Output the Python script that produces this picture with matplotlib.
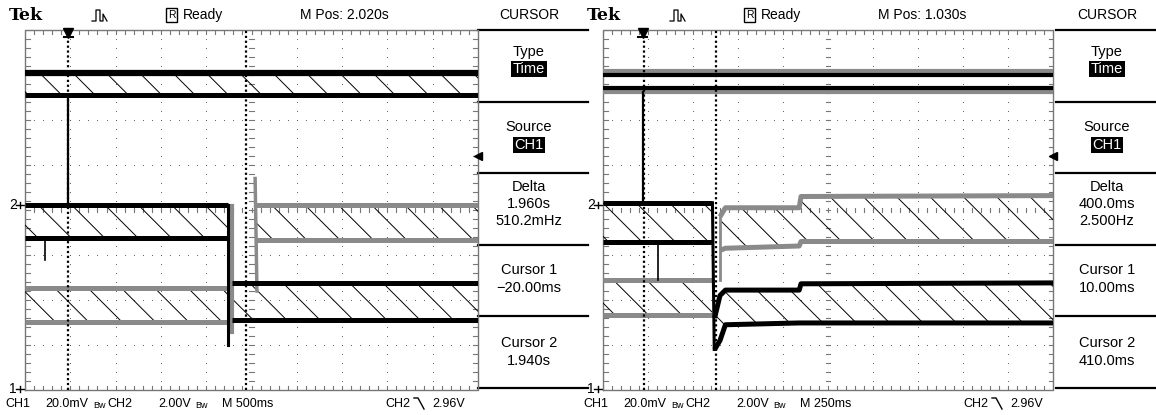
"""Two Tek scope screens (cursor menu), CH1 / CH2 step traces."""
import numpy as np
import matplotlib.pyplot as plt

plt.rcParams['hatch.linewidth'] = 0.7
FONT = ['Liberation Sans', 'DejaVu Sans']

W, H = 1156, 415

# --- data: times in s, levels in screen divisions (0 = bottom, 8 = top) ---
# left screen, 500 ms/div
L_XLIM = (-0.5, 4.5)
L_CURSORS = [-0.02, 1.94]
L_TRIG_T = -0.02
L_TOP = (6.56, 7.04)
L_STEP_T = 1.74
L_BLACK_PRE = (3.38, 4.11)
L_BLACK_POST = (1.56, 2.38)
L_GRAY_PRE = (1.51, 2.27)
L_GRAY_POST = (3.33, 4.11)
L_GRAY_POST_T = 2.04
L_STEP_BOTTOM = 1.0

# right screen, 250 ms/div
R_XLIM = (-0.22, 2.28)
R_CURSORS = [0.010, 0.410]
R_TRIG_T = 0.0
R_TOP_BLACK = (6.70, 7.00)
R_TOP_GRAY = (6.62, 7.08)
R_STEP_T = 0.388
R_BLACK_PRE = (3.29, 4.16)
R_GRAY_PRE = (1.67, 2.44)
R_POST_T = [0.40, 0.43, 0.46, 0.87, 0.88, 2.28]
R_BLACK_POST_LO = [0.90, 1.10, 1.45, 1.49, 1.49, 1.49]
R_BLACK_POST_HI = [1.60, 2.10, 2.22, 2.22, 2.36, 2.38]
R_GRAY_POST_LO = [3.00, 3.10, 3.15, 3.20, 3.30, 3.30]
R_GRAY_POST_HI = [3.70, 3.85, 4.05, 4.05, 4.30, 4.32]
R_SPIKE = (0.085, 2.44, 3.25)

L_MENU = ['Type', 'Time', 'Source', 'CH1', 'Delta', '1.960s', '510.2mHz',
          'Cursor 1', '\u221220.00ms', 'Cursor 2', '1.940s']
R_MENU = ['Type', 'Time', 'Source', 'CH1', 'Delta', '400.0ms', '2.500Hz',
          'Cursor 1', '10.00ms', 'Cursor 2', '410.0ms']
L_MPOS, R_MPOS = 'M Pos: 2.020s', 'M Pos: 1.030s'
L_TIMEBASE, R_TIMEBASE = 'M 500ms', 'M 250ms'

BLACK, GRAY = '#000000', '#8a8a8a'

fig = plt.figure(figsize=(W / 100, H / 100), dpi=100)
bg = fig.add_axes([0, 0, 1, 1])
bg.set_xlim(0, W)
bg.set_ylim(H, 0)
bg.axis('off')


def band(ax, t, lo, hi, color, hatch=True, lw=3.6):
    t = np.atleast_1d(t)
    lo = np.broadcast_to(lo, t.shape)
    hi = np.broadcast_to(hi, t.shape)
    if hatch:
        ax.fill_between(t, lo, hi, facecolor='none',
                        edgecolor='black', linewidth=0, hatch='\\', zorder=2)
    ax.plot(t, hi, color=color, lw=lw, solid_capstyle='butt', zorder=4)
    ax.plot(t, lo, color=color, lw=lw, solid_capstyle='butt', zorder=4)


def screen(ax, xlim):
    ax.set_xlim(*xlim)
    ax.set_ylim(0, 8)
    ax.axis('off')
    t0, t1 = xlim
    div = (t1 - t0) / 10
    # dot grid
    xs, ys = [], []
    for k in range(1, 10):
        for y in np.arange(0, 8.01, 0.2):
            xs.append(t0 + k * div)
            ys.append(y)
    for j in range(1, 8):
        for x in np.arange(0, 10.01, 0.2):
            xs.append(t0 + x * div)
            ys.append(j)
    ax.scatter(xs, ys, s=0.6, color='#555555', lw=0, zorder=1)
    # frame with ticks
    ax.plot([t0, t1, t1, t0, t0], [0, 0, 8, 8, 0], color='#777777',
            lw=1.0, zorder=1, clip_on=False)
    for x in np.arange(0, 10.01, 0.2):
        xx = t0 + x * div
        for y0, y1 in [(0, 0.1), (8, 7.9), (3.95, 4.05)]:
            ax.plot([xx, xx], [y0, y1], color='#777777', lw=0.8, zorder=1)
    for y in np.arange(0, 8.01, 0.2):
        for x0, x1 in [(0, 0.1), (10, 9.9), (4.95, 5.05)]:
            ax.plot([t0 + x0 * div, t0 + x1 * div], [y, y], color='#777777',
                    lw=0.8, zorder=1)


def cursors(ax, ts):
    for t in ts:
        ax.plot([t, t], [0, 8], color='black', lw=1.6, ls=(0, (1, 1.2)),
                zorder=5)


def trig_marks(ax, t, xlim):
    ax.plot([t], [7.93], marker='v', ms=7, color='black', clip_on=False,
            zorder=6)
    ax.plot([t - 0.01 * (xlim[1] - xlim[0]), t + 0.01 * (xlim[1] - xlim[0])],
            [7.85, 7.85], color='black', lw=1.5, zorder=6)
    ax.plot([xlim[1]], [5.2], marker='<', ms=6, color='black',
            clip_on=False, zorder=6)


# ---------------- left screen ----------------
axl = fig.add_axes([25 / W, (H - 390) / H, 453 / W, 360 / H])
screen(axl, L_XLIM)
band(axl, L_XLIM, *L_TOP, BLACK)
axl.plot(L_XLIM, [L_TOP[1]] * 2, color=BLACK, lw=4.5, zorder=4)
axl.plot([L_TRIG_T, L_TRIG_T], [L_BLACK_PRE[1], L_TOP[0]], color=BLACK,
         lw=1.6, zorder=4)
band(axl, [L_XLIM[0], L_STEP_T], *L_GRAY_PRE, GRAY)
band(axl, [L_GRAY_POST_T, L_XLIM[1]], *L_GRAY_POST, GRAY)
axl.plot([L_GRAY_POST_T, L_GRAY_POST_T + 0.02], [4.7, 2.2], color=GRAY,
         lw=2.5, zorder=3)
axl.plot([L_STEP_T + 0.04] * 2, [4.1, 1.3], color=GRAY, lw=3, zorder=3)
band(axl, [L_XLIM[0], L_STEP_T], *L_BLACK_PRE, BLACK)
band(axl, [L_STEP_T + 0.04, L_XLIM[1]], *L_BLACK_POST, BLACK)
axl.plot([L_STEP_T, L_STEP_T], [L_BLACK_PRE[1], L_STEP_BOTTOM], color=BLACK,
         lw=2.2, zorder=5)
axl.plot([-0.28, -0.28], [L_BLACK_PRE[0], 2.9], color=BLACK, lw=1.2, zorder=4)
cursors(axl, L_CURSORS)
trig_marks(axl, L_TRIG_T, L_XLIM)

# ---------------- right screen ----------------
axr = fig.add_axes([603 / W, (H - 390) / H, 450 / W, 360 / H])
screen(axr, R_XLIM)
band(axr, R_XLIM, *R_TOP_GRAY, GRAY, hatch=False, lw=3.0)
band(axr, R_XLIM, *R_TOP_BLACK, BLACK, hatch=False, lw=3.0)
axr.plot([R_TRIG_T, R_TRIG_T], [R_BLACK_PRE[1], R_TOP_GRAY[0]], color=BLACK,
         lw=1.6, zorder=4)
band(axr, [R_XLIM[0], R_STEP_T], *R_GRAY_PRE, GRAY)
band(axr, R_POST_T[1:], R_GRAY_POST_LO[1:], R_GRAY_POST_HI[1:], GRAY)
axr.plot([R_POST_T[1]] * 2, [R_GRAY_PRE[1], R_GRAY_POST_HI[1]], color=GRAY,
         lw=2, zorder=3)
band(axr, [R_XLIM[0], R_STEP_T], *R_BLACK_PRE, BLACK)
band(axr, R_POST_T, R_BLACK_POST_LO, R_BLACK_POST_HI, BLACK)
axr.plot([R_STEP_T, R_STEP_T + 0.01], [R_BLACK_PRE[1], R_BLACK_POST_LO[0]],
         color=BLACK, lw=2.2, zorder=5)
axr.plot([R_SPIKE[0]] * 2, R_SPIKE[1:], color=BLACK, lw=1.2, zorder=4)
cursors(axr, R_CURSORS)
trig_marks(axr, R_TRIG_T, R_XLIM)

# ---------------- chrome: headers, menus, footers ----------------
FS = 10
MS = 10.5
for off, mpos, menu, tb in [(0, L_MPOS, L_MENU, L_TIMEBASE),
                            (578, R_MPOS, R_MENU, R_TIMEBASE)]:
    bg.text(off + 9, 15, 'Tek', fontsize=12.5, fontweight='bold',
            family='DejaVu Serif', va='center', ha='left')
    bg.plot(np.array([92, 96, 96, 100, 100, 103, 103, 107]) + off,
            [21, 21, 10, 10, 21, 21, 14, 21], color='black', lw=0.9)
    bg.text(off + 168, 15, 'R', fontsize=7.5, family=FONT, va='center',
            ha='left', bbox=dict(boxstyle='square,pad=0.15', fc='white',
                                 ec='black', lw=1))
    bg.text(off + 183, 15, 'Ready', fontsize=FS, family=FONT, va='center')
    bg.text(off + 300, 15, mpos, fontsize=FS, family=FONT, va='center')
    cx = off + 529
    bg.text(cx, 15, 'CURSOR', fontsize=FS, family=FONT, va='center',
            ha='center')
    for y in [30, 102, 173, 245, 316, 388]:
        bg.plot([off + 478, off + 588 if off == 0 else W], [y, y],
                color='black', lw=1.6)
    rows = [(52, 0), (69, 1), (127, 2), (145, 3), (187, 4), (204, 5),
            (221, 6), (270, 7), (288, 8), (343, 9), (361, 10)]
    for y, i in rows:
        inv = i in (1, 3)
        bg.text(cx, y, menu[i], fontsize=MS, family=FONT, va='center',
                ha='center', color='white' if inv else 'black',
                bbox=dict(boxstyle='square,pad=0.1', fc='black', ec='none')
                if inv else None)
    # channel markers
    bg.text(off + 9, 205, '2', fontsize=FS, family=FONT, va='center')
    bg.text(off + 9, 389, '1', fontsize=FS, family=FONT, va='center')
    for y in (205, 389):
        bg.plot([off + 16, off + 24], [y, y], color='black', lw=1)
        bg.plot([off + 20, off + 20], [y - 3, y + 3], color='black', lw=1)
    # footer
    fy = 404
    FF = 9
    bg.text(off + 5, fy, 'CH1', fontsize=FF, family=FONT, va='center')
    bg.text(off + 45, fy, '20.0mV', fontsize=FF, family=FONT, va='center')
    bg.text(off + 93, fy + 1, 'Bw', fontsize=6.5, family=FONT, va='center')
    bg.text(off + 107, fy, 'CH2', fontsize=FF, family=FONT, va='center')
    bg.text(off + 158, fy, '2.00V', fontsize=FF, family=FONT, va='center')
    bg.text(off + 195, fy + 1, 'Bw', fontsize=6.5, family=FONT, va='center')
    bg.text(off + 222, fy, tb, fontsize=FF, family=FONT, va='center')
    bg.text(off + 385, fy, 'CH2', fontsize=FF, family=FONT, va='center')
    bg.plot(np.array([414, 418, 424]) + off, [398, 398, 409], color='black',
            lw=1)
    bg.text(off + 432, fy, '2.96V', fontsize=FF, family=FONT, va='center')

fig.savefig('out.png', dpi=100)
